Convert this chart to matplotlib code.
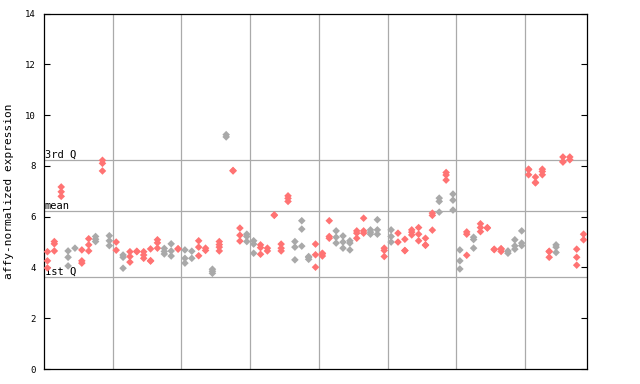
import numpy as np
import matplotlib
matplotlib.use('Agg')
import matplotlib.pyplot as plt

# expression values per sample (replicates)
sample_values = [
    [4.62, 4.26, 3.98], [5.02, 4.93, 4.65], [7.17, 6.98, 6.80], [4.65, 4.40, 4.06],
    [4.76], [4.69, 4.26, 4.17], [5.13, 4.89, 4.65], [5.22, 5.11, 5.02],
    [8.22, 8.10, 7.80], [5.25, 5.05, 4.86], [5.00, 4.68], [4.49, 4.40, 3.97],
    [4.62, 4.43, 4.21], [4.64, 4.62], [4.62, 4.49, 4.36], [4.73, 4.27, 4.25],
    [5.09, 4.97, 4.76], [4.75, 4.63, 4.53], [4.93, 4.65, 4.45], [4.74, 4.72],
    [4.69, 4.36, 4.17], [4.64, 4.36], [5.05, 4.80, 4.46], [4.76, 4.67],
    [3.93, 3.85, 3.77], [5.02, 4.90, 4.80, 4.65], [9.23, 9.14], [7.82, 7.80],
    [5.55, 5.27, 5.04], [5.31, 5.22, 5.02], [5.05, 4.92, 4.56], [4.89, 4.78, 4.52],
    [4.76, 4.65], [6.07, 6.05], [4.92, 4.76, 4.65], [6.82, 6.72, 6.60],
    [5.02, 4.80, 4.30], [5.84, 5.51, 4.84], [4.43, 4.40, 4.32], [4.92, 4.50, 4.01],
    [4.56, 4.54, 4.45], [5.84, 5.22, 5.15], [5.44, 5.19, 4.96], [5.24, 5.00, 4.76],
    [5.05, 4.96, 4.69], [5.44, 5.35, 5.15], [5.94, 5.44, 5.35], [5.48, 5.39, 5.31],
    [5.88, 5.48, 5.31], [4.76, 4.67, 4.43], [5.48, 5.22, 5.00], [5.35, 5.00],
    [5.11, 4.67, 4.66], [5.48, 5.39, 5.28], [5.57, 5.31, 5.05], [5.15, 4.89, 4.87],
    [6.14, 6.05, 5.47], [6.73, 6.60, 6.18], [7.74, 7.64, 7.44], [6.89, 6.65, 6.26],
    [4.69, 4.26, 3.94], [5.40, 5.31, 4.48], [5.19, 5.10, 4.76], [5.72, 5.57, 5.41],
    [5.57, 5.55], [4.72, 4.70], [4.74, 4.72, 4.63], [4.65, 4.56],
    [5.09, 4.85, 4.72], [5.44, 4.96, 4.86], [7.87, 7.85, 7.65], [7.56, 7.35, 7.33],
    [7.87, 7.78, 7.65], [4.64, 4.62, 4.40], [4.89, 4.80, 4.59], [8.35, 8.17, 8.15],
    [8.35, 8.24], [4.72, 4.40, 4.09], [5.31, 5.09],
]

# colour group of each sample: r = red, g = gray
sample_groups = list(
    'rrrggrrgrg'
    'rgrrrrrggr'
    'ggrrgrgrrg'
    'grrrrrgggr'
    'rrgggrrggr'
    'grrrrrrgrg'
    'grgrrrrggg'
    'rrrrgrrrr'
)

q3_value = 8.23
mean_value = 6.21
q1_value = 3.62

group_colors = {'r': '#ff7373', 'g': '#a9a9a9'}

xs, ys, cs = [], [], []
for i, (vals, grp) in enumerate(zip(sample_values, sample_groups)):
    for v in vals:
        xs.append(i + 0.5)
        ys.append(v)
        cs.append(group_colors[grp])

fig = plt.figure(figsize=(6.4, 3.84), dpi=100)
ax = fig.add_axes([0.0688, 0.039, 0.8484, 0.9258])

n = len(sample_values)
ax.set_xlim(0, n)
ax.set_ylim(0, 14)

# vertical separators every 10 samples
for xv in range(10, n, 10):
    ax.axvline(xv, color='#aaaaaa', lw=0.9, zorder=1)

# quartile / mean lines with their labels
mono = 'DejaVu Sans Mono'
for val, lab in [(q3_value, '3rd Q'), (mean_value, 'mean'), (q1_value, '1st Q')]:
    ax.axhline(val, color='#aaaaaa', lw=0.9, zorder=1)
    ax.text(0.1, val + 0.02, lab, family=mono, fontsize=7.5,
            ha='left', va='bottom', zorder=2)

ax.scatter(xs, ys, c=cs, marker='D', s=15, linewidths=0, zorder=3)

ax.set_yticks(range(0, 15, 2))
ax.set_xticks([])
ax.tick_params(axis='y', direction='in', length=4, width=0.8,
               right=True, labelsize=6.5, pad=6)
for lbl in ax.get_yticklabels():
    lbl.set_family(mono)

for sp in ax.spines.values():
    sp.set_linewidth(0.9)

ax.set_ylabel('affy-normalized expression', family=mono, fontsize=8, labelpad=8)

fig.savefig('out.png', dpi=100)
